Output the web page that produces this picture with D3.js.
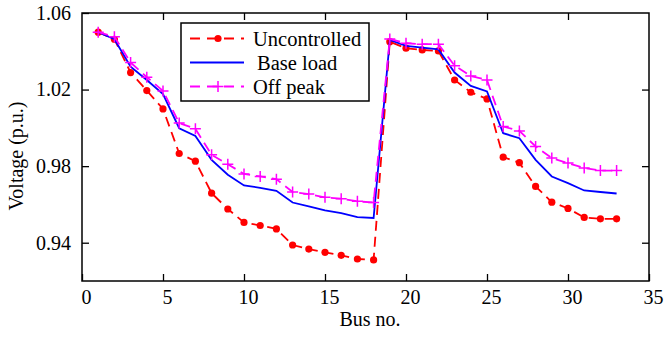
<!DOCTYPE html>
<html>
<head>
<meta charset="utf-8">
<script src="https://cdn.jsdelivr.net/npm/d3@7"></script>
<style>
  body { margin: 0; background: #fff; }
  svg { display: block; font-family: "Liberation Serif", "Times New Roman", serif; }
</style>
</head>
<body>
<div id="chart"></div>
<script>
const buses = d3.range(1, 34);

const uncontrolled = [
  1.0500, 1.0463, 1.0289, 1.0195, 1.0099, 0.9866, 0.9826, 0.9659, 0.9576, 0.9506,
  0.9490, 0.9472, 0.9388, 0.9367, 0.9350, 0.9334, 0.9315, 0.9310, 1.0450, 1.0416,
  1.0407, 1.0402, 1.0250, 1.0186, 1.0151, 0.9847, 0.9818, 0.9694, 0.9612, 0.9579,
  0.9532, 0.9525, 0.9525
];
const baseLoad = [
  1.0500, 1.0463, 1.0320, 1.0250, 1.0176, 0.9998, 0.9958, 0.9833, 0.9755, 0.9699,
  0.9687, 0.9671, 0.9610, 0.9590, 0.9569, 0.9555, 0.9534, 0.9529, 1.0459, 1.0428,
  1.0419, 1.0410, 1.0289, 1.0219, 1.0190, 0.9972, 0.9946, 0.9833, 0.9746, 0.9711,
  0.9673, 0.9665, 0.9657
];
const offPeak = [
  1.0500, 1.0476, 1.0341, 1.0265, 1.0193, 1.0025, 0.9995, 0.9859, 0.9810, 0.9759,
  0.9746, 0.9732, 0.9665, 0.9654, 0.9637, 0.9630, 0.9616, 0.9610, 1.0464, 1.0442,
  1.0437, 1.0437, 1.0325, 1.0271, 1.0250, 1.0007, 0.9984, 0.9903, 0.9842, 0.9816,
  0.9790, 0.9777, 0.9777
];

const xTicks = [0, 5, 10, 15, 20, 25, 30, 35];
const yTicks = [0.94, 0.98, 1.02, 1.06];

const series = [
  { name: "Uncontrolled", values: uncontrolled, color: "#ff0000", dash: "10,6", marker: "dot" },
  { name: "Base load", values: baseLoad, color: "#0000ff", dash: null, marker: null },
  { name: "Off peak", values: offPeak, color: "#ff00ff", dash: "10,6", marker: "plus" }
];

const width = 665, height = 337;
const margin = { top: 13, right: 16, bottom: 56, left: 82 };
const x0 = margin.left, x1 = width - margin.right;
const y0 = margin.top, y1 = height - margin.bottom;

const svg = d3.select("#chart").append("svg")
  .attr("width", width)
  .attr("height", height);

const x = d3.scaleLinear().domain([0, 35]).range([x0, x1]);
const y = d3.scaleLinear().domain([0.92, 1.06]).range([y1, y0]);

const TICK = 7;
const FS = 20;

// axes: ticks point inward on all four sides
svg.append("g")
  .attr("transform", `translate(0,${y1})`)
  .call(d3.axisBottom(x).tickValues(xTicks).tickSizeInner(-TICK).tickSizeOuter(0).tickPadding(9).tickFormat(d3.format("d")))
  .call(g => g.select(".domain").remove())
  .call(g => g.selectAll("text").attr("dx", 4).attr("font-size", FS).attr("font-family", "Liberation Serif").attr("fill", "#000"));

svg.append("g")
  .attr("transform", `translate(0,${y0})`)
  .call(d3.axisTop(x).tickValues(xTicks.slice(1, -1)).tickSizeInner(-TICK).tickSizeOuter(0).tickFormat(""))
  .call(g => g.select(".domain").remove());

svg.append("g")
  .attr("transform", `translate(${x0},0)`)
  .call(d3.axisLeft(y).tickValues(yTicks).tickSizeInner(-TICK).tickSizeOuter(0).tickPadding(11).tickFormat(d3.format(".2f")))
  .call(g => g.select(".domain").remove())
  .call(g => g.selectAll("text").attr("font-size", FS).attr("font-family", "Liberation Serif").attr("fill", "#000"));

svg.append("g")
  .attr("transform", `translate(${x1},0)`)
  .call(d3.axisRight(y).tickValues(yTicks.slice(0, -1)).tickSizeInner(-TICK).tickSizeOuter(0).tickFormat(""))
  .call(g => g.select(".domain").remove());

svg.selectAll(".tick line").attr("stroke", "#000").attr("stroke-width", 1.3);

// frame
svg.append("rect")
  .attr("x", x0).attr("y", y0)
  .attr("width", x1 - x0).attr("height", y1 - y0)
  .attr("fill", "none")
  .attr("stroke", "#000")
  .attr("stroke-width", 1.5);

const line = d3.line()
  .x((d, i) => x(buses[i]))
  .y(d => y(d));

function drawMarker(g, kind, cx, cy, color) {
  if (kind === "dot") {
    g.append("circle").attr("cx", cx).attr("cy", cy).attr("r", 3.6).attr("fill", color);
  } else if (kind === "plus") {
    const s = 5.5;
    g.append("path")
      .attr("d", `M${cx - s},${cy}H${cx + s}M${cx},${cy - s}V${cy + s}`)
      .attr("stroke", color).attr("stroke-width", 1.5).attr("fill", "none");
  }
}

series.forEach(s => {
  const g = svg.append("g");
  g.append("path")
    .datum(s.values)
    .attr("d", line)
    .attr("fill", "none")
    .attr("stroke", s.color)
    .attr("stroke-width", 1.8)
    .attr("stroke-dasharray", s.dash);
  if (s.marker) {
    s.values.forEach((v, i) => drawMarker(g, s.marker, x(buses[i]), y(v), s.color));
  }
});

// legend
const lg = svg.append("g");
lg.append("rect")
  .attr("x", 181).attr("y", 23)
  .attr("width", 188).attr("height", 78)
  .attr("fill", "#fff").attr("stroke", "#000").attr("stroke-width", 1.5);

series.forEach((s, i) => {
  const ly = 38.5 + i * 24;
  lg.append("line")
    .attr("x1", 190).attr("x2", 244)
    .attr("y1", ly).attr("y2", ly)
    .attr("stroke", s.color).attr("stroke-width", 1.8)
    .attr("stroke-dasharray", s.dash ? "10,7" : null);
  if (s.marker) drawMarker(lg, s.marker, 218, ly, s.color);
  lg.append("text")
    .attr("x", i === 1 ? 257 : 253)
    .attr("y", ly + 7)
    .attr("font-size", 20.5)
    .attr("fill", "#000")
    .text(s.name);
});

// axis titles
svg.append("text")
  .attr("x", 370)
  .attr("y", 326)
  .attr("text-anchor", "middle")
  .attr("font-size", FS)
  .text("Bus no.");

svg.append("text")
  .attr("transform", "translate(23,156) rotate(-90)")
  .attr("text-anchor", "middle")
  .attr("font-size", FS)
  .text("Voltage (p.u.)");
</script>
</body>
</html>
